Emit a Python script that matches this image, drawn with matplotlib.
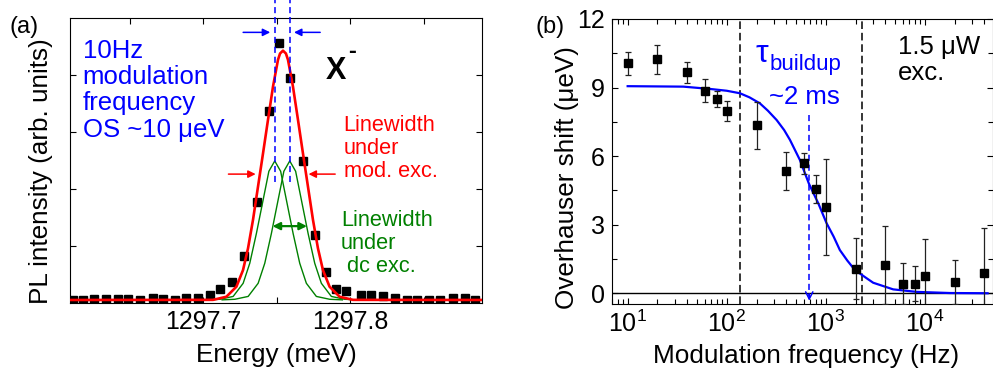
import matplotlib
matplotlib.use('Agg')
import matplotlib.pyplot as plt
import numpy as np
from matplotlib.ticker import MultipleLocator, LogLocator, NullFormatter

plt.rcParams['font.family'] = ['Liberation Sans', 'DejaVu Sans']
plt.rcParams['mathtext.fontset'] = 'custom'
plt.rcParams['mathtext.rm'] = 'Liberation Sans'
plt.rcParams['mathtext.it'] = 'Liberation Sans:italic'
plt.rcParams['mathtext.bf'] = 'Liberation Sans:bold'

# ---- panel (a): PL spectrum of X- ----
energy = [1297.6114, 1297.6182, 1297.6261, 1297.6341, 1297.6420, 1297.6489,
          1297.6568, 1297.6659, 1297.6727, 1297.6807, 1297.6886, 1297.6966,
          1297.7045, 1297.7118, 1297.7200, 1297.7279, 1297.7367, 1297.7447,
          1297.7515, 1297.7595, 1297.7680, 1297.7760, 1297.7835, 1297.7907,
          1297.7976, 1297.8073, 1297.8141, 1297.8223, 1297.8307, 1297.8386,
          1297.8455, 1297.8534, 1297.8614, 1297.8700, 1297.8780, 1297.8852]
pl = [0.06, 0.06, 0.07, 0.08, 0.08, 0.07, 0.06, 0.09, 0.08, 0.06, 0.09, 0.09,
      0.15, 0.245, 0.38, 0.83, 1.78, 3.37, 4.56, 3.95, 2.49, 1.19, 0.55, 0.255,
      0.22, 0.14, 0.14, 0.13, 0.09, 0.06, 0.06, 0.06, 0.06, 0.10, 0.10, 0.06]

# red fit (modulated excitation), read as offsets from its centre
red_centre = 1297.7544
red_dE = [-0.2800, -0.0476, -0.0385, -0.0317, -0.0272, -0.0238, -0.0204, -0.0170,
          -0.0136, -0.0102, -0.0068, -0.0034, -0.0020, 0.0, 0.0020, 0.0034,
          0.0068, 0.0102, 0.0136, 0.0170, 0.0204, 0.0238, 0.0272, 0.0317,
          0.0385, 0.0476, 0.2800]
red_I = [0.055, 0.06, 0.115, 0.29, 0.58, 0.96, 1.46, 2.04, 2.62, 3.21, 3.79, 4.26,
         4.37, 4.42, 4.37, 4.26, 3.79, 3.21, 2.62, 2.04, 1.46, 0.96, 0.58, 0.29,
         0.115, 0.06, 0.055]

# green fits (dc excitation), same shape at two centres
green_centres = [1297.7488, 1297.7590]
green_dE = [-0.0460, -0.0374, -0.0283, -0.0215, -0.0170, -0.0125, -0.0079, -0.0040,
            0.0, 0.0040, 0.0079, 0.0125, 0.0170, 0.0215, 0.0283, 0.0374, 0.0460]
green_I = [0.06, 0.07, 0.12, 0.35, 0.70, 1.22, 1.81, 2.31, 2.49, 2.31, 1.81, 1.22,
           0.70, 0.35, 0.12, 0.07, 0.06]

# ---- panel (b): Overhauser shift vs modulation frequency ----
freq = [10, 20, 40, 60, 80, 100, 200, 400, 600, 800, 1000, 2000, 4000, 6000,
        8000, 10000, 20000, 40000]
shift = [10.06, 10.23, 9.66, 8.86, 8.51, 7.97, 7.35, 5.36, 5.69, 4.56, 3.76,
         1.08, 1.24, 0.41, 0.41, 0.76, 0.48, 0.87]
shift_err = [0.51, 0.62, 0.46, 0.50, 0.34, 0.42, 1.03, 0.84, 0.46, 0.63, 2.10,
             1.35, 1.70, 0.90, 0.77, 1.60, 0.97, 1.97]

fit_f = [10, 36.4, 67.6, 100, 136, 170, 216, 260, 319, 380, 435, 548, 675, 839,
         1020, 1200, 1387, 1650, 1966, 2500, 3010, 4790, 8240, 17900, 43000]
fit_shift = [9.06, 9.04, 8.94, 8.86, 8.75, 8.57, 8.31, 7.99, 7.58, 7.14, 6.71,
             5.83, 4.80, 3.94, 3.06, 2.48, 1.89, 1.43, 1.02, 0.70, 0.46, 0.17,
             0.06, 0.01, 0.0]

f_dashed = [136, 2300]
f_buildup = 681

BLUE = '#0000ff'
RED = '#ff0000'
GREEN = '#008000'

fig = plt.figure(figsize=(9.93, 3.7), dpi=100)

# ===== (a) =====
ax1 = fig.add_axes([0.0705, 0.1803, 0.4149, 0.7724])
ax1.plot(energy, pl, 's', color='k', ms=5.2, zorder=2)
for c in green_centres:
    ax1.plot([c + d for d in green_dE], green_I, color=GREEN, lw=1.0, zorder=3)
ax1.plot([red_centre + d for d in red_dE], red_I, color=RED, lw=1.9, zorder=4)

ax1.set_xlim(1297.6095, 1297.8898)
ax1.set_ylim(0, 5)
ax1.set_xticks([1297.65, 1297.7, 1297.75, 1297.8, 1297.85])
ax1.set_xticklabels(['', '1297.7', '', '1297.8', ''])
ax1.set_yticks([1, 2, 3, 4])
ax1.set_yticklabels([])
ax1.tick_params(direction='in', top=True, right=True, length=4, width=0.8,
                labelsize=18, pad=5)
for s in ax1.spines.values():
    s.set_linewidth(0.8)

# blue dashed markers and arrows (offset splitting)
for c in green_centres:
    ax1.plot([c, c], [2.13, 5.3], color=BLUE, lw=1.1, ls=(0, (4, 2.5)),
             clip_on=False, zorder=5)
arr_blue = dict(arrowstyle='-|>', color=BLUE, lw=1.1, mutation_scale=11)
ax1.annotate('', xy=(1297.7476, 4.74), xytext=(1297.7254, 4.74), arrowprops=arr_blue)
ax1.annotate('', xy=(1297.7600, 4.74), xytext=(1297.7816, 4.74), arrowprops=arr_blue)

arr_red = dict(arrowstyle='-|>', color=RED, lw=1.1, mutation_scale=11)
ax1.annotate('', xy=(1297.7377, 2.26), xytext=(1297.7154, 2.26), arrowprops=arr_red)
ax1.annotate('', xy=(1297.7699, 2.26), xytext=(1297.7918, 2.26), arrowprops=arr_red)

ax1.annotate('', xy=(1297.7454, 1.35), xytext=(1297.7726, 1.35),
             arrowprops=dict(arrowstyle='<|-|>', color=GREEN, lw=1.6, mutation_scale=11))

ax1.text(1297.6182, 3.73, '10Hz\nmodulation\nfrequency\nOS ~10 \u03bceV', color=BLUE,
         fontsize=18.5, ha='left', va='center', linespacing=1.12)
ax1.text(1297.7957, 2.71, 'Linewidth\nunder\nmod. exc.', color=RED,
         fontsize=15.7, ha='left', va='center', linespacing=1.12)
ax1.text(1297.7937, 1.05, 'Linewidth\nunder\n dc exc.', color=GREEN,
         fontsize=15.7, ha='left', va='center', linespacing=1.12)
ax1.text(1297.7835, 4.06, 'X', fontsize=22, fontweight='bold', ha='left', va='center')
ax1.text(1297.7985, 4.40, '-', fontsize=17, fontweight='bold', ha='left', va='center')

ax1.set_xlabel('Energy (meV)', fontsize=18.8, va='center')
ax1.xaxis.set_label_coords(0.5017, -0.181)
ax1.set_ylabel('PL intensity (arb. units)', fontsize=18.8, va='center')
ax1.yaxis.set_label_coords(-0.0704, 0.463)

# ===== (b) =====
ax2 = fig.add_axes([0.6160, 0.1784, 0.3835, 0.7703])
ax2.set_xscale('log')
ax2.axhline(0, color='k', lw=1.0, zorder=1)
for f in f_dashed:
    ax2.axvline(f, color='k', lw=1.1, ls=(0, (5, 2.5)), zorder=1)
ax2.plot([f_buildup, f_buildup], [7.8, -0.1], color=BLUE, lw=1.1,
         ls=(0, (4, 2.5)), zorder=2)
ax2.annotate('', xy=(f_buildup, -0.45), xytext=(f_buildup, 0.1),
             arrowprops=dict(arrowstyle='->', color=BLUE, lw=1.1, mutation_scale=13),
             annotation_clip=False)
ax2.plot(fit_f, fit_shift, color=BLUE, lw=1.6, zorder=3)
ax2.errorbar(freq, shift, yerr=shift_err, fmt='s', color='k', ms=6.2,
             ecolor='#222222', elinewidth=0.9, capsize=2.5, capthick=0.9, zorder=4)

ax2.set_xlim(6.9, 4.82e4)
ax2.set_ylim(-0.47, 12)
ax2.xaxis.set_major_locator(LogLocator(base=10, numticks=10))
ax2.xaxis.set_minor_locator(LogLocator(base=10, subs=np.arange(2, 10), numticks=20))
ax2.xaxis.set_minor_formatter(NullFormatter())
ax2.yaxis.set_major_locator(MultipleLocator(3))
ax2.yaxis.set_minor_locator(MultipleLocator(1.5))
ax2.tick_params(which='both', direction='in', top=True, right=True, width=0.8,
                labelsize=18)
ax2.tick_params(which='major', length=4.5, pad=5)
ax2.tick_params(which='minor', length=3.5)
for s in ax2.spines.values():
    s.set_linewidth(0.8)

ax2.text(224, 10.45, '\u03c4', color=BLUE, fontsize=23, ha='center', va='center')
ax2.text(630, 10.0, 'buildup', color=BLUE, fontsize=16, ha='center', va='center')
ax2.text(608, 8.59, '~2 ms', color=BLUE, fontsize=18.5, ha='center', va='center')
ax2.text(5350, 10.2, '1.5 \u03bcW\nexc.', color='k', fontsize=18.5, ha='left',
         va='center', linespacing=1.12)

ax2.set_xlabel('Modulation frequency (Hz)', fontsize=18.8, va='center')
ax2.xaxis.set_label_coords(0.511, -0.182)
ax2.set_ylabel('Overhauser shift (\u03bceV)', fontsize=18.8, va='center')
ax2.yaxis.set_label_coords(-0.118, 0.444)

fig.text(0.0242, 0.927, '(a)', fontsize=17, ha='center', va='center')
fig.text(0.554, 0.927, '(b)', fontsize=17, ha='center', va='center')

fig.savefig('out.png', dpi=100)
